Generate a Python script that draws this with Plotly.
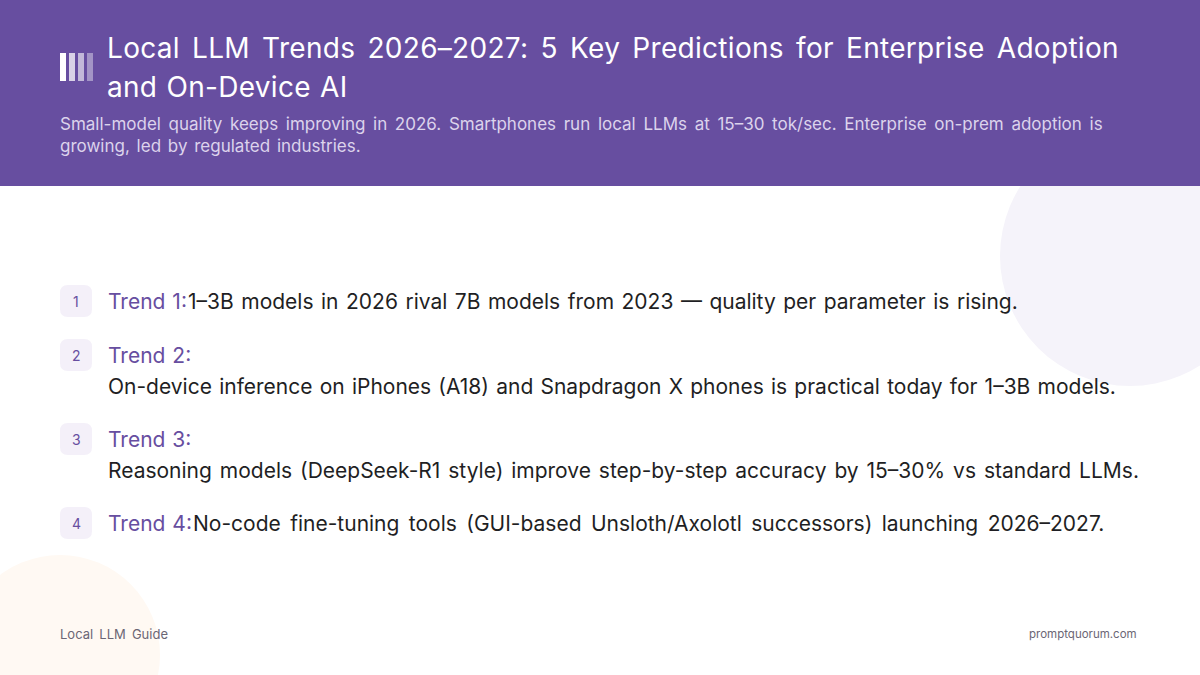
#!/usr/bin/env python3
"""
Local LLM trends slide, drawn with Plotly shapes and annotations
"""

import json
import plotly.graph_objects as go

title_lines = ["Local LLM Trends 2026–2027: 5 Key Predictions for Enterprise Adoption", "and On-Device AI"]
subtitle_lines = [
    "Small-model quality keeps improving in 2026. Smartphones run local LLMs at 15–30 tok/sec. Enterprise on-prem adoption is",
    "growing, led by regulated industries.",
]
badge_labels = ["1", "2", "3", "4"]
trend_labels = ["Trend 1:", "Trend 2:", "Trend 3:", "Trend 4:"]
trend_texts = [
    "1–3B models in 2026 rival 7B models from 2023 — quality per parameter is rising.",
    "On-device inference on iPhones (A18) and Snapdragon X phones is practical today for 1–3B models.",
    "Reasoning models (DeepSeek-R1 style) improve step-by-step accuracy by 15–30% vs standard LLMs.",
    "No-code fine-tuning tools (GUI-based Unsloth/Axolotl successors) launching 2026–2027.",
]
footer_left = "Local LLM Guide"
footer_right = "promptquorum.com"

PURPLE = "#674EA0"
FONT = "Inter"

text_spacing = []  # (word, letter) per annotation, applied after the plot is drawn


def rounded_rect(x0, y0, x1, y1, r):
    return (f"M{x0+r},{y0} L{x1-r},{y0} Q{x1},{y0} {x1},{y0+r} L{x1},{y1-r} Q{x1},{y1} {x1-r},{y1} "
            f"L{x0+r},{y1} Q{x0},{y1} {x0},{y1-r} L{x0},{y0+r} Q{x0},{y0} {x0+r},{y0} Z")


def add_text(fig, x, y, text, size, color, anchor="left", word=0, letter=0):
    # annotations sit about 2px inside their anchor
    shift = {"left": -2, "right": 2, "center": 0}[anchor]
    fig.add_annotation(x=x + shift, y=y, text=text, showarrow=False, xanchor=anchor, yanchor="middle",
                       align=anchor, font=dict(family=FONT, size=size, color=color))
    text_spacing.append((word, letter))


fig = go.Figure()

# background circles first, the header covers the top one
fig.add_shape(type="circle", x0=1000, x1=1260, y0=126, y1=386, fillcolor="#F5F3FA", line_width=0, layer="below")
fig.add_shape(type="circle", x0=-40, x1=160, y0=555, y1=755, fillcolor="#FFF9F3", line_width=0, layer="below")
fig.add_shape(type="rect", x0=0, x1=1200, y0=0, y1=186, fillcolor=PURPLE, line_width=0, layer="below")

# logo bars
for x0, op in zip([60, 69, 78, 87], [1.0, 0.75, 0.6, 0.4]):
    fig.add_shape(type="rect", x0=x0, x1=x0 + 6, y0=53, y1=81, fillcolor="white", opacity=op, line_width=0)

for text, y, word in zip(title_lines, [48, 87], [4, 1]):
    add_text(fig, 107, y, text, 28, "white", word=word, letter=0.3)
for text, y, word in zip(subtitle_lines, [124, 146], [2.9, 2]):
    add_text(fig, 60, y, text, 17, "#DCD3EC", word=word)

# trend rows: inline rows 1 and 4, two line rows 2 and 3
badge_y = [301, 355, 439, 523]
text_y = [301, 386, 470, 523]
text_x = [188, 108, 108, 193]
row_word = [1.6, 1.3, 2.0, 3.5]
for i in range(4):
    y = badge_y[i]
    fig.add_shape(type="path", path=rounded_rect(60, y - 16, 92, y + 16, 8), fillcolor="#F4F0F9", line_width=0)
    add_text(fig, 76, y, badge_labels[i], 14, PURPLE, anchor="center")
    add_text(fig, 108, y, trend_labels[i], 21, PURPLE, word=1)
    add_text(fig, text_x[i], text_y[i], trend_texts[i], 21, "#1F1F24", word=row_word[i])

add_text(fig, 60, 634, footer_left, 13, "#6B6675", word=2.5)
add_text(fig, 1137, 634, footer_right, 11.5, "#6B6675", anchor="right")

fig.update_xaxes(range=[0, 1200], visible=False, fixedrange=True)
fig.update_yaxes(range=[675, 0], visible=False, fixedrange=True)
fig.update_layout(width=1200, height=675, margin=dict(l=0, r=0, t=0, b=0),
                  paper_bgcolor="white", plot_bgcolor="white", showlegend=False)

post = """
document.body.style.margin = '0';
var spacing = %s;
document.querySelectorAll('.annotation-text').forEach(function (t, i) {
    t.style.wordSpacing = spacing[i][0] + 'px';
    t.style.letterSpacing = spacing[i][1] + 'px';
});
""" % json.dumps(text_spacing)

fig.write_html("out.html", config={"displayModeBar": False}, post_script=post)
